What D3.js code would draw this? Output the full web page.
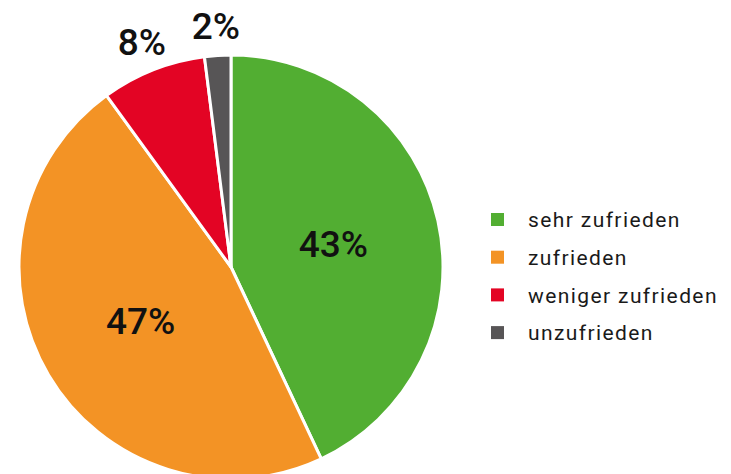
<!DOCTYPE html>
<html>
<head>
<meta charset="utf-8">
<script src="https://cdn.jsdelivr.net/npm/d3@7"></script>
<style>
  body { margin: 0; background: #fff; }
  svg { display: block; font-family: Roboto, "DejaVu Sans", sans-serif; }
</style>
</head>
<body>
<div id="chart"></div>
<script>
// Zufriedenheit
const categories = ['sehr zufrieden', 'zufrieden', 'weniger zufrieden', 'unzufrieden'];
const values = [43, 47, 8, 2];
const colors = ['#52ae32', '#f39325', '#e30424', '#575556'];
const outside = [false, false, true, true];

const width = 731, height = 474;
const cx = 231, cy = 267, radius = 212;

const svg = d3.select('#chart').append('svg')
    .attr('width', width)
    .attr('height', height);

const data = categories.map((c, i) => ({ name: c, value: values[i], color: colors[i], outside: outside[i] }));

const pie = d3.pie()
    .value(d => d.value)
    .sort(null);

const arc = d3.arc()
    .innerRadius(0)
    .outerRadius(radius);

// centroid sits at (inner + outer) / 2
const inLabelArc = d3.arc()
    .innerRadius(105)
    .outerRadius(105);

const outLabelArc = d3.arc()
    .innerRadius(242)
    .outerRadius(242);

const g = svg.append('g')
    .attr('transform', `translate(${cx},${cy})`);

const arcs = pie(data);

g.selectAll('path.slice')
    .data(arcs)
    .join('path')
    .attr('class', 'slice')
    .attr('d', arc)
    .attr('fill', d => d.data.color)
    .attr('stroke', '#fff')
    .attr('stroke-width', 3)
    .attr('stroke-linejoin', 'round');

g.selectAll('text.label')
    .data(arcs)
    .join('text')
    .attr('class', 'label')
    .attr('transform', d => `translate(${(d.data.outside ? outLabelArc : inLabelArc).centroid(d)})`)
    .attr('text-anchor', 'middle')
    .attr('dy', '0.36em')
    .style('font-size', '37px')
    .style('font-weight', 500)
    .style('fill', '#111')
    .text(d => d.data.value + '%');

// legend
const legend = svg.append('g')
    .attr('transform', 'translate(491,213)');

const rows = legend.selectAll('g')
    .data(data)
    .join('g')
    .attr('transform', (d, i) => `translate(0,${i * 37.7})`);

rows.append('rect')
    .attr('width', 13)
    .attr('height', 13)
    .attr('fill', d => d.color);

rows.append('text')
    .attr('x', 37)
    .attr('y', 7)
    .attr('dy', '0.35em')
    .style('font-size', '21px')
    .style('fill', '#1a1a1a')
    .style('letter-spacing', '1.4px')
    .text(d => d.name);
</script>
</body>
</html>
